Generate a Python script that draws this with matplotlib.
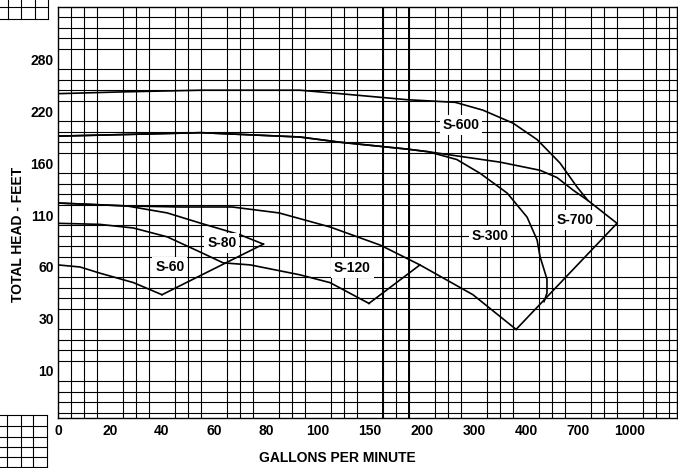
import numpy as np
import matplotlib
matplotlib.use('Agg')
import matplotlib.pyplot as plt
from matplotlib.lines import Line2D

# axis label values (the chart's scales are evenly spaced between labels)
GPM_TICKS = [0, 20, 40, 60, 80, 100, 150, 200, 300, 400, 700, 1000]
HEAD_TICKS = [10, 30, 60, 110, 160, 220, 280]

# pump curves (gallons per minute / feet of head)
S600_GPM = [0, 24, 55, 93, 121, 186, 264, 317, 375, 464, 596, 694, 757]
S600_HEAD = [240, 242, 244, 244, 240, 233, 230, 221, 206, 187, 160, 137, 124]

S700_GPM = [0, 55, 93, 121, 186, 212, 350, 481, 579, 671, 757, 925]
S700_HEAD = [191, 195, 190, 184, 176, 173, 161, 153, 146, 134, 124, 102]

S300_GPM = [0, 55, 93, 121, 186, 212, 267, 312, 364, 406, 464, 481, 521, 521, 504]
S300_HEAD = [191, 195, 190, 184, 176, 173, 164, 150, 131, 108, 86, 70, 53, 45, 40]

S300_LOW_GPM = [0, 26.5, 47, 67, 85, 111.5, 160, 198, 298, 381]
S300_LOW_HEAD = [121.5, 118.7, 117.7, 117.7, 112, 98.5, 81, 62, 44, 26]
S300_EDGE_GPM = [925, 381]
S300_EDGE_HEAD = [102, 26]

S120_GPM = [0, 16, 29, 42, 55, 63.5, 74, 93, 111.5, 149]
S120_HEAD = [102, 101, 97.5, 89, 74, 64, 62, 55.5, 51, 39]
S120_EDGE_GPM = [149, 198]
S120_EDGE_HEAD = [39, 62]

S80_GPM = [0, 26.5, 42, 55, 70, 79]
S80_HEAD = [121.5, 118.7, 112, 102, 91, 82]

S60_GPM = [0, 8.5, 16, 29, 40]
S60_HEAD = [62, 60, 56.5, 51, 44]
S60_EDGE_GPM = [40, 79]
S60_EDGE_HEAD = [44, 82]

# series name and where its label sits (gpm, head)
LABELS = ['S-600', 'S-700', 'S-300', 'S-120', 'S-80', 'S-60']
LABEL_GPM = [275, 683, 331, 133, 63, 43]
LABEL_HEAD = [204, 105, 90, 59.4, 83, 60]

W, H = 678, 468

# piecewise-linear scales: one unit between neighbouring labels
X_KNOTS = [-20] + GPM_TICKS + [1300]
Y_KNOTS = [-10] + HEAD_TICKS + [340]
X_POS = np.arange(len(X_KNOTS), dtype=float)
Y_POS = np.arange(len(Y_KNOTS), dtype=float)


def x_fwd(v):
    return np.interp(v, X_KNOTS, X_POS)

def x_inv(p):
    return np.interp(p, X_POS, X_KNOTS)

def y_fwd(v):
    return np.interp(v, Y_KNOTS, Y_POS)

def y_inv(p):
    return np.interp(p, Y_POS, Y_KNOTS)


def corner_grid(fig, xs, ys, x0, x1, y0, y1):
    # little bits of graph paper sticking out at the left edge
    for x in xs:
        fig.add_artist(Line2D([x / W, x / W], [1 - y0 / H, 1 - y1 / H],
                              transform=fig.transFigure, color='black', lw=0.8))
    for y in ys:
        fig.add_artist(Line2D([x0 / W, x1 / W], [1 - y / H, 1 - y / H],
                              transform=fig.transFigure, color='black', lw=0.8))


def main():
    plt.rcParams['font.family'] = ['Liberation Sans', 'DejaVu Sans']
    plt.rcParams['font.weight'] = 'bold'

    fig = plt.figure(figsize=(W / 100, H / 100), dpi=100)
    ax = fig.add_axes([58 / W, (H - 418) / H, (677 - 58) / W, (418 - 7) / H])

    ax.set_xscale('function', functions=(x_fwd, x_inv))
    ax.set_yscale('function', functions=(y_fwd, y_inv))
    ax.set_xlim(0, x_inv(1 + (677 - 58) / 52))
    ax.set_ylim(y_inv(1 - 47 / 52), 340)

    # graph paper grid: 4 squares per gpm label, 5 per head label
    xgrid = x_inv(np.round(np.arange(1.0, 12.95, 0.25), 2))
    ygrid = y_inv(np.round(np.arange(0.2, 7.99, 0.2), 2))
    ax.set_xticks(xgrid, minor=True)
    ax.set_yticks(ygrid, minor=True)
    ax.grid(which='minor', color='black', lw=0.8)
    ax.grid(which='major', visible=False)
    for p in [7.25, 7.75]:
        ax.axvline(x_inv(p), color='black', lw=1.4, zorder=1)

    ax.set_xticks(GPM_TICKS)
    ax.set_xticklabels([str(v) for v in GPM_TICKS])
    ax.set_yticks(HEAD_TICKS)
    ax.set_yticklabels([str(v) for v in HEAD_TICKS])
    ax.tick_params(which='both', length=0, labelsize=10)
    ax.tick_params(axis='x', pad=4)
    ax.tick_params(axis='y', pad=3)
    for s in ax.spines.values():
        s.set_color('black')
        s.set_linewidth(1)

    curves = [
        (S600_GPM, S600_HEAD), (S700_GPM, S700_HEAD), (S300_GPM, S300_HEAD),
        (S300_LOW_GPM, S300_LOW_HEAD), (S300_EDGE_GPM, S300_EDGE_HEAD),
        (S120_GPM, S120_HEAD), (S120_EDGE_GPM, S120_EDGE_HEAD),
        (S80_GPM, S80_HEAD), (S60_GPM, S60_HEAD), (S60_EDGE_GPM, S60_EDGE_HEAD),
    ]
    for gpm, head in curves:
        ax.plot(gpm, head, color='black', lw=1.2, zorder=3)

    for name, g, h in zip(LABELS, LABEL_GPM, LABEL_HEAD):
        ax.text(g, h, name, ha='center', va='center', fontsize=10, fontweight='bold',
                zorder=4, bbox=dict(boxstyle='square,pad=0.2', fc='white', ec='none'))

    ax.set_xlabel('GALLONS PER MINUTE', fontsize=10, fontweight='bold')
    ax.xaxis.set_label_coords(0.451, -0.080)
    ax.set_ylabel('TOTAL HEAD - FEET', fontsize=10, fontweight='bold')
    ax.yaxis.set_label_coords(-0.053, 0.446)

    corner_grid(fig, [8, 21, 35, 48], [7, 19], 0, 48, 0, 19)
    corner_grid(fig, [7, 21, 33, 47], [415, 426, 437, 447, 457, 467], 0, 47, 415, 468)

    fig.savefig('out.png', dpi=100)


if __name__ == '__main__':
    main()
